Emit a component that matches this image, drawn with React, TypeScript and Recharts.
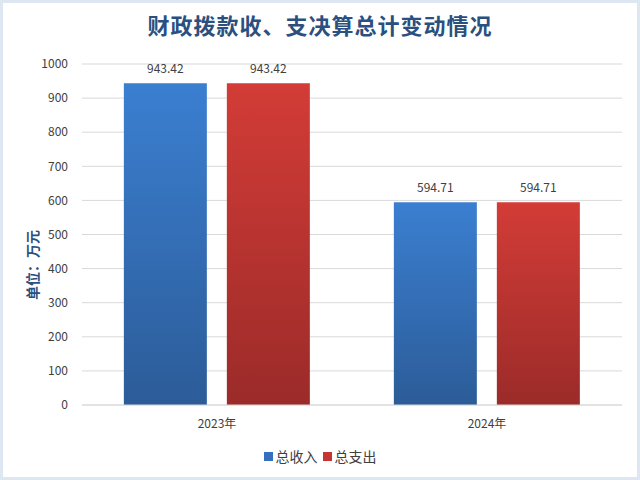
import React from "react";
import { BarChart, Bar, XAxis, YAxis, CartesianGrid, LabelList } from "recharts";

const categories = ["2023年", "2024年"];
const income = [943.42, 594.71];
const expense = [943.42, 594.71];
const yTicks = [0, 100, 200, 300, 400, 500, 600, 700, 800, 900, 1000];
const seriesNames = ["总收入", "总支出"];
const seriesColors = ["#3470bd", "#c53633"];

const data = categories.map((c, i) => ({ name: c, 总收入: income[i], 总支出: expense[i] }));

const font = "'Noto Sans CJK SC', 'Noto Sans', sans-serif";

export default function App() {
  return (
    <div
      style={{
        position: "absolute",
        left: 0,
        top: 0,
        width: 640,
        height: 480,
        background: "#fff",
        boxSizing: "border-box",
        border: "3px solid #dde7f1",
        fontFamily: font,
      }}
    >
      <div
        style={{
          position: "absolute",
          left: 0,
          top: 5,
          width: 634,
          textAlign: "center",
          fontSize: 22,
          fontWeight: 700,
          color: "#2b4f7e",
          fontFamily: "'Noto Sans CJK SC', serif",
          letterSpacing: 1,
        }}
      >
        财政拨款收、支决算总计变动情况
      </div>
      <div
        style={{
          position: "absolute",
          left: 29,
          top: 262,
          transform: "translate(-50%, -50%) rotate(-90deg)",
          fontSize: 14,
          fontWeight: 700,
          color: "#2b4f7e",
          whiteSpace: "nowrap",
        }}
      >
        单位：万元
      </div>
      <div style={{ position: "absolute", left: -3, top: -3 }}>
        <BarChart
          width={640}
          height={480}
          data={data}
          margin={{ top: 64, right: 18, bottom: 45, left: 32 }}
          barCategoryGap="15.5%"
          barGap={20}
        >
          <defs>
            <linearGradient id="gBlue" x1="0" y1="0" x2="0" y2="1">
              <stop offset="0%" stopColor="#3b7fd1" />
              <stop offset="100%" stopColor="#2c5c98" />
            </linearGradient>
            <linearGradient id="gRed" x1="0" y1="0" x2="0" y2="1">
              <stop offset="0%" stopColor="#d33c37" />
              <stop offset="100%" stopColor="#9b2b29" />
            </linearGradient>
          </defs>
          <CartesianGrid vertical={false} stroke="#d9d9d9" />
          <XAxis
            dataKey="name"
            axisLine={{ stroke: "#d9d9d9" }}
            tickLine={false}
            tick={{ fontSize: 12, fill: "#404040", fontFamily: font }}
            tickMargin={8}
            height={30}
          />
          <YAxis
            domain={[0, 1000]}
            ticks={yTicks}
            axisLine={false}
            tickLine={false}
            width={50}
            tick={{ fontSize: 12, fill: "#404040", fontFamily: font }}
            tickMargin={8}
          />
          <Bar dataKey="总收入" fill="url(#gBlue)" isAnimationActive={false}>
            <LabelList dataKey="总收入" position="top" offset={10} style={{ fontSize: 12, fill: "#404040", fontFamily: font }} />
          </Bar>
          <Bar dataKey="总支出" fill="url(#gRed)" isAnimationActive={false}>
            <LabelList dataKey="总支出" position="top" offset={10} style={{ fontSize: 12, fill: "#404040", fontFamily: font }} />
          </Bar>
        </BarChart>
      </div>
      <div
        style={{
          position: "absolute",
          left: 0,
          top: 443,
          width: 634,
          display: "flex",
          justifyContent: "center",
          alignItems: "center",
          fontSize: 14,
          color: "#404040",
        }}
      >
        {seriesNames.map((n, i) => (
          <span key={n} style={{ display: "flex", alignItems: "center", marginRight: i === 0 ? 5 : 0 }}>
            <span style={{ display: "inline-block", width: 9, height: 9, background: seriesColors[i], marginRight: 3 }} />
            {n}
          </span>
        ))}
      </div>
    </div>
  );
}
